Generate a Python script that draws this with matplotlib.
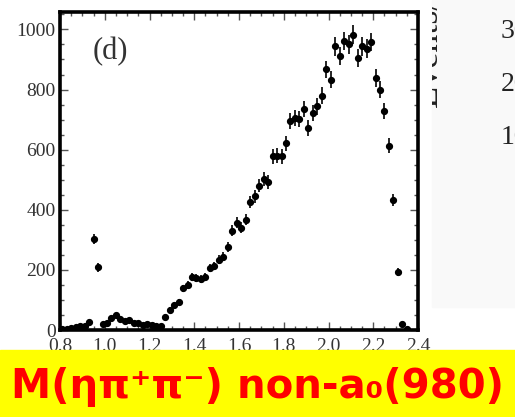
import matplotlib.pyplot as plt
import matplotlib.patches as mpatches
from matplotlib.ticker import MultipleLocator
from matplotlib.transforms import Bbox, TransformedBbox
import numpy as np

# M(eta pi+ pi-) spectrum, bin centres (GeV) and events per bin
mass = [0.81, 0.83, 0.85, 0.87, 0.89, 0.91, 0.93, 0.95, 0.97, 0.99,
        1.01, 1.03, 1.05, 1.07, 1.09, 1.11, 1.13, 1.15, 1.17, 1.19,
        1.21, 1.23, 1.25, 1.27, 1.29, 1.31, 1.33, 1.35, 1.37, 1.39,
        1.41, 1.43, 1.45, 1.47, 1.49, 1.51, 1.53, 1.55, 1.57, 1.59,
        1.61, 1.63, 1.65, 1.67, 1.69, 1.71, 1.73, 1.75, 1.77, 1.79,
        1.81, 1.83, 1.85, 1.87, 1.89, 1.91, 1.93, 1.95, 1.97, 1.99,
        2.01, 2.03, 2.05, 2.07, 2.09, 2.11, 2.13, 2.15, 2.17, 2.19,
        2.21, 2.23, 2.25, 2.27, 2.29, 2.31, 2.33, 2.35]
events = [2, 5, 8, 10, 12, 15, 28, 302, 208, 20,
          22, 40, 50, 38, 30, 32, 24, 22, 18, 20,
          17, 15, 12, 42, 68, 82, 93, 139, 150, 175,
          172, 169, 176, 206, 213, 234, 244, 277, 330, 357,
          341, 367, 425, 445, 480, 502, 492, 578, 580, 578,
          622, 694, 706, 702, 736, 672, 722, 744, 780, 867,
          833, 944, 911, 962, 950, 983, 906, 944, 936, 958,
          839, 800, 728, 613, 433, 194, 20, 2]

xticks = [0.8, 1.0, 1.2, 1.4, 1.6, 1.8, 2.0, 2.2, 2.4]
xticklabels = ["0.8", "1.0", "1.2", "1.4", "1.6", "1.8", "2.0", "2.2", "2.4"]
yticks = [0, 200, 400, 600, 800, 1000]
next_panel_labels = ["300", "200", "100"]

fig = plt.figure(figsize=(5.15, 4.17), dpi=100)
ax = fig.add_axes([0.1165, 0.2086, 0.6952, 0.7626])

err = np.sqrt(events)
ax.errorbar(mass, events, yerr=err, xerr=0.008, fmt="o", color="black",
            markersize=4.2, elinewidth=1.2, capsize=0, zorder=3)

ax.set_xlim(0.8, 2.4)
ax.set_ylim(0, 1058)
ax.set_xticks(xticks)
ax.set_xticklabels(xticklabels)
ax.set_yticks(yticks)
ax.xaxis.set_minor_locator(MultipleLocator(0.05))
ax.yaxis.set_minor_locator(MultipleLocator(50))

for s in ax.spines.values():
    s.set_linewidth(2.6)
ax.tick_params(which="both", direction="in", top=True, right=True, width=1.0,
               color="#555555")
ax.tick_params(which="major", length=6)
ax.tick_params(which="minor", length=3)
ax.tick_params(axis="x", pad=6)
ax.tick_params(axis="y", pad=3)
for lab in ax.get_xticklabels() + ax.get_yticklabels():
    lab.set_fontfamily("Liberation Serif")
    lab.set_fontsize(14)
    lab.set_color("#333333")

ax.text(0.14, 0.875, "(d)", transform=ax.transAxes, fontsize=22,
        family="Liberation Serif", color="#333333", ha="center", va="center")

# faint neighbouring panel on the right
fig.add_artist(mpatches.Rectangle((432 / 515, 110 / 417), 83 / 515, 307 / 417,
                                  transform=fig.transFigure, color="#f9f9f9",
                                  zorder=-1))
t = fig.text(445 / 515, (417 - 108) / 417, "Events/(20 MeV)", rotation=90,
             fontsize=26, family="Liberation Serif", color="#222222",
             ha="right", va="bottom")
t.set_clip_box(TransformedBbox(Bbox.from_extents(432 / 515, 0.5, 442 / 515, 1.0),
                               fig.transFigure))
t.set_clip_on(True)
for i, lab in enumerate(next_panel_labels):
    fig.text(501 / 515, (417 - 32 - i * 52.5) / 417, lab, fontsize=20,
             family="Liberation Serif", color="#222222", ha="left", va="center")

# yellow caption band
fig.add_artist(mpatches.Rectangle((0, 0), 1, 67 / 417, transform=fig.transFigure,
                                  color="#ffff00", zorder=5))
fig.text(0.5, 0.073, "M(ηπ⁺π⁻) non-a₀(980)", fontsize=29, fontweight="bold",
         color="#ff0000", ha="center", va="center", zorder=6)

fig.savefig("out.png", dpi=100)
